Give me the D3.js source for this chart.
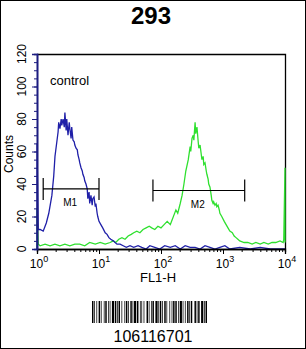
<!DOCTYPE html>
<html>
<head>
<meta charset="utf-8">
<script src="https://cdn.jsdelivr.net/npm/d3@7"></script>
<style>
body { margin: 0; background: #fff; }
text { font-family: "Liberation Sans", Arial, sans-serif; }
</style>
</head>
<body>
<svg width="306" height="349"></svg>
<script>
// sample + axis stuff
var title = "293";
var sampleLabel = "control";
var barcodeText = "106116701";

// FL1-H position as log10 exponent, counts per channel
var blueLog = [0, 0, 0.02, 0.05, 0.10, 0.15, 0.19, 0.24, 0.27, 0.29, 0.32, 0.34, 0.35, 0.37, 0.39, 0.40, 0.42, 0.44, 0.45, 0.47, 0.48, 0.50, 0.52, 0.53, 0.55, 0.56, 0.58, 0.60, 0.61, 0.63, 0.65, 0.66, 0.68, 0.69, 0.71, 0.73, 0.74, 0.76, 0.77, 0.79, 0.81, 0.82, 0.84, 0.85, 0.87, 0.89, 0.90, 0.92, 0.94, 0.95, 0.97, 0.98, 1.00, 1.03, 1.06, 1.10, 1.13, 1.16, 1.19, 1.23, 1.26, 1.29, 1.34, 1.39, 1.44, 1.50, 1.56, 1.63, 1.69, 1.76, 1.82, 1.90, 1.98, 2.06, 2.15, 2.23, 2.31, 2.39, 2.47, 2.55, 2.63, 2.71, 2.79, 2.87, 2.95, 3.03, 3.11, 3.27, 3.44, 3.60, 3.76, 4.00];
var blueCounts = [0, 65, 12, 12, 11, 16, 22, 33, 45, 57, 66, 72, 78, 74, 80, 76, 80, 75, 84, 73, 80, 70, 78, 74, 68, 75, 67, 66, 64, 62, 61, 58, 55, 53, 50, 48, 46, 44, 42, 40, 37, 31, 35, 28, 33, 27, 31, 32, 26, 28, 22, 20, 17, 15, 13, 10, 9, 7, 6, 5, 4, 3, 3, 2, 1, 2, 1, 2, 1, 0, 2, 1, 0, 2, 1, 2, 0, 2, 1, 1, 0, 2, 1, 0, 1, 2, 0, 1, 0, 1, 0, 0];

var greenLog = [0, 0, 0.02, 0.05, 0.13, 0.21, 0.29, 0.37, 0.45, 0.53, 0.61, 0.69, 0.77, 0.85, 0.94, 1.02, 1.10, 1.18, 1.23, 1.27, 1.32, 1.37, 1.42, 1.47, 1.52, 1.56, 1.61, 1.66, 1.71, 1.76, 1.81, 1.85, 1.90, 1.95, 2.00, 2.05, 2.10, 2.15, 2.18, 2.21, 2.24, 2.27, 2.31, 2.34, 2.37, 2.40, 2.44, 2.47, 2.48, 2.50, 2.52, 2.53, 2.55, 2.56, 2.58, 2.60, 2.61, 2.63, 2.65, 2.66, 2.68, 2.69, 2.71, 2.73, 2.74, 2.76, 2.77, 2.79, 2.81, 2.82, 2.84, 2.85, 2.87, 2.89, 2.90, 2.92, 2.94, 2.95, 2.98, 3.02, 3.05, 3.08, 3.11, 3.15, 3.18, 3.21, 3.24, 3.27, 3.34, 3.40, 3.47, 3.53, 3.60, 3.66, 3.73, 3.79, 3.85, 3.92, 3.97, 3.98, 4.00, 4.00];
var greenCounts = [0, 25, 3, 2, 3, 2, 3, 2, 3, 2, 3, 3, 2, 4, 3, 4, 3, 4, 5, 4, 6, 7, 6, 8, 9, 10, 11, 10, 12, 13, 14, 13, 12, 14, 13, 15, 17, 15, 18, 21, 24, 22, 28, 33, 40, 48, 55, 63, 60, 68, 70, 67, 78, 71, 75, 66, 62, 64, 58, 55, 57, 52, 53, 48, 46, 43, 40, 38, 33, 30, 28, 29, 27, 28, 26, 27, 24, 22, 20, 17, 15, 13, 11, 10, 8, 7, 6, 5, 4, 4, 3, 4, 3, 4, 3, 4, 4, 5, 4, 6, 50, 4];

// gate markers (FL1-H exponent range and level in counts)
var markerNames = ["M1", "M2"];
var markerFrom = [0.10, 1.87];
var markerTo = [1.00, 3.35];
var markerLevel = [37, 36];

var yTicks = [0, 20, 40, 60, 80, 100, 120];
var yMinor = d3.range(0, 121, 5);
var xDecades = [0, 1, 2, 3, 4];

// barcode bar/space widths (modules), starts with a bar
var barcodeWidths = [2,1,1,2,1,2,2,1,1,3,1,1,2,2,1,1,1,2,3,1,2,1,1,1,2,2,1,3,1,1,2,1,1,2,2,1,1,1,3,1,2,2,1,1,1,2,1,3,2,1,1,2,1,1,2,2,3,1,1,1,2,1,1,2,2,1,1,3,1,2,1,1,2,1,2,2,1,1,3,1,1,2,1,2,2,1,1,1,2,3,2,1,1,1,2,2,3,1,1,1,2];

(function() {
var svg = d3.select("svg");
var width = +svg.attr("width"),
    height = +svg.attr("height");

var pLeft = 37, pRight = 285, pTop = 54, pBottom = 249;

var x = d3.scaleLog().domain([1, 1e4]).range([pLeft, pRight]);
var y = d3.scaleLinear().domain([0, 120]).range([pBottom, pTop]);

svg.append("rect")
    .attr("x", 0.5).attr("y", 0.5)
    .attr("width", width - 1).attr("height", height - 1)
    .attr("fill", "none").attr("stroke", "#000");

svg.append("text")
    .attr("x", 151).attr("y", 24)
    .attr("text-anchor", "middle")
    .attr("font-size", 24).attr("font-weight", "bold")
    .text(title);

// plot frame (top and right)
svg.append("path")
    .attr("d", "M" + pLeft + "," + (pTop + 0.5) + "H" + (pRight + 0.5) + "V" + pBottom)
    .attr("fill", "none").attr("stroke", "#000").attr("stroke-width", 1.3);

// histograms
var line = d3.line()
    .x(function(d) { return x(Math.pow(10, d[0])); })
    .y(function(d) { return y(d[1]); });

svg.append("path")
    .datum(d3.zip(greenLog, greenCounts))
    .attr("fill", "none").attr("stroke", "#2fe02f").attr("stroke-width", 1.3)
    .attr("d", line);

svg.append("path")
    .datum(d3.zip(blueLog, blueCounts))
    .attr("fill", "none").attr("stroke", "#1f1fa8").attr("stroke-width", 1.3)
    .attr("d", line);

// x axis
var majorVals = xDecades.map(function(d) { return Math.pow(10, d); });
var xMinor = x.ticks().filter(function(v) { return majorVals.indexOf(v) < 0; });
var xAxisMinor = svg.append("g")
    .attr("transform", "translate(0," + pBottom + ")")
    .call(d3.axisBottom(x).tickValues(xMinor).tickSize(3).tickFormat(""));
var xAxis = svg.append("g")
    .attr("transform", "translate(0," + pBottom + ")")
    .call(d3.axisBottom(x).tickValues(majorVals).tickSize(5).tickFormat(""));
[xAxisMinor, xAxis].forEach(function(g) {
  g.select(".domain").attr("stroke", "#000").attr("stroke-width", 1.3);
  g.selectAll(".tick line").attr("stroke", "#000");
});

var xLab = svg.append("g").selectAll("text")
    .data(xDecades)
  .enter().append("text")
    .attr("x", function(d) { return x(Math.pow(10, d)) + 2; })
    .attr("y", 268)
    .attr("text-anchor", "middle")
    .attr("font-size", 12);
xLab.append("tspan").text("10");
xLab.append("tspan").attr("dy", -6).attr("font-size", 9).text(function(d) { return d; });

svg.append("text")
    .attr("x", 158).attr("y", 282)
    .attr("text-anchor", "middle").attr("font-size", 13)
    .text("FL1-H");

// y axis
var yAxisMinor = svg.append("g")
    .attr("transform", "translate(" + pLeft + ",0)")
    .call(d3.axisLeft(y).tickValues(yMinor).tickSize(3).tickFormat(""));
var yAxis = svg.append("g")
    .attr("transform", "translate(" + pLeft + ",0)")
    .call(d3.axisLeft(y).tickValues(yTicks).tickSize(5).tickFormat(""));
[yAxisMinor, yAxis].forEach(function(g) {
  g.select(".domain").attr("stroke", "#1d1d80").attr("stroke-width", 1.6);
  g.selectAll(".tick line").attr("stroke", "#1d1d80");
});

svg.append("g").selectAll("text")
    .data(yTicks)
  .enter().append("text")
    .attr("transform", function(d) { return "translate(26," + y(d) + ") rotate(-90)"; })
    .attr("text-anchor", "middle").attr("font-size", 12)
    .text(function(d) { return d; });

svg.append("text")
    .attr("transform", "translate(13,154) rotate(-90)")
    .attr("text-anchor", "middle").attr("font-size", 12)
    .text("Counts");

svg.append("text")
    .attr("x", 50).attr("y", 85)
    .attr("font-size", 13)
    .text(sampleLabel);

// markers
var mk = svg.append("g").selectAll("g")
    .data(markerNames)
  .enter().append("g");
mk.append("path")
    .attr("fill", "none").attr("stroke", "#000").attr("stroke-width", 1.2)
    .attr("d", function(d, i) {
      var x0 = x(Math.pow(10, markerFrom[i])), x1 = x(Math.pow(10, markerTo[i])), yy = y(markerLevel[i]);
      return "M" + x0 + "," + (yy - 11) + "V" + (yy + 11) + "M" + x0 + "," + yy + "H" + x1 +
             "M" + x1 + "," + (yy - 11) + "V" + (yy + 11);
    });
mk.append("text")
    .attr("x", function(d, i) { return x(Math.pow(10, (markerFrom[i] + markerTo[i]) / 2)) - 1; })
    .attr("y", function(d, i) { return y(markerLevel[i]) + 17; })
    .attr("text-anchor", "middle").attr("font-size", 10)
    .text(function(d) { return d; });

// barcode
var total = d3.sum(barcodeWidths);
var bx = d3.scaleLinear().domain([0, total]).range([92, 207]);
var pos = 0, bars = [];
barcodeWidths.forEach(function(w, i) {
  if (i % 2 === 0) bars.push([pos, w]);
  pos += w;
});
svg.append("g").selectAll("rect")
    .data(bars)
  .enter().append("rect")
    .attr("x", function(d) { return bx(d[0]); })
    .attr("width", function(d) { return bx(d[1]) - bx(0); })
    .attr("y", 301).attr("height", 22)
    .attr("fill", "#000");

svg.append("text")
    .attr("x", 153).attr("y", 342)
    .attr("text-anchor", "middle").attr("font-size", 16)
    .text(barcodeText);
})();
</script>
</body>
</html>
